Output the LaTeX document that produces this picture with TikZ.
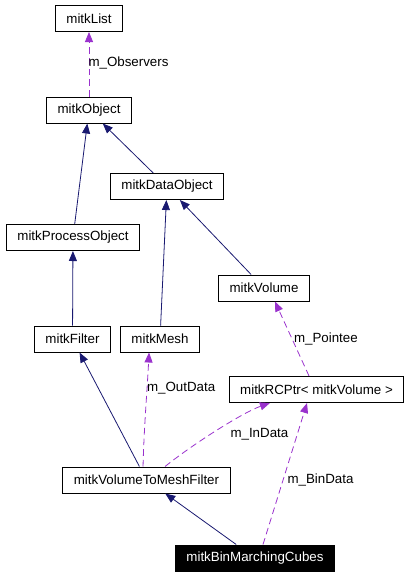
\documentclass[tikz,border=0pt]{standalone}
\usepackage{fontspec}
\setmainfont{Liberation Sans}
\usetikzlibrary{arrows.meta}
\definecolor{edgeblue}{HTML}{191970}
\definecolor{edgepurple}{HTML}{9A32CD}
\tikzset{every picture/.style={line width=0.75pt},
  cls/.style={draw, line width=0.75pt, minimum height=19.5pt, inner xsep=8.2pt, inner ysep=0pt, font=\fontsize{10}{12}\selectfont},
  self/.style={cls, fill=black, text=white},
  inherit/.style={draw=edgeblue, line width=0.6pt, -{Triangle[length=7.5pt,width=6pt]}, color=edgeblue},
  usage/.style={draw=edgepurple, line width=0.6pt, dashed, dash pattern=on 5pt off 3pt, -{Triangle[length=7.5pt,width=6pt]}, color=edgepurple},
  lbl/.style={anchor=west, inner sep=0pt, font=\fontsize{10}{12}\selectfont}}
\begin{document}
\begin{tikzpicture}[x=0.75pt,y=0.75pt,yscale=-1,xscale=1]
\useasboundingbox (0,0) rectangle (411,576);

% Class Nodes
\node[cls] (list) at (89,18.5) {mitkList};
\node[cls] (object) at (89,110) {mitkObject};
\node[cls] (dataobject) at (167,186.5) {mitkDataObject};
\node[cls] (processobject) at (73,237.5) {mitkProcessObject};
\node[cls] (volume) at (264,288) {mitkVolume};
\node[cls] (filter) at (72.5,339) {mitkFilter};
\node[cls] (mesh) at (160,339) {mitkMesh};
\node[cls] (rcptr) at (316.5,389.5) {mitkRCPtr< mitkVolume >};
\node[cls] (vtmfilter) at (146.5,480) {mitkVolumeToMeshFilter};
\node[self] (bincubes) at (255,558) {mitkBinMarchingCubes};

% Inheritance
\draw[inherit] (processobject) -- (object);
\draw[inherit] (dataobject) -- (object);
\draw[inherit] (filter) -- (processobject);
\draw[inherit] (mesh) -- (dataobject);
\draw[inherit] (volume) -- (dataobject);
\draw[inherit] (vtmfilter) -- (filter);
\draw[inherit] (bincubes) -- (vtmfilter);

% Usage
\draw[usage] (object) -- (list);
\draw[usage] ([xshift=-2.6pt]vtmfilter.north) .. controls +(1,-40) and +(-2,40) .. ([xshift=-8.2pt]mesh.south);
\draw[usage] ([xshift=13.9pt]vtmfilter.north) .. controls +(30,-24) and +(-26,9) .. ([xshift=-34.9pt]rcptr.south);
\draw[usage] ([xshift=6pt]bincubes.north) -- ([xshift=-7.1pt]rcptr.south);
\draw[usage] ([xshift=-5.6pt]rcptr.north) -- ([xshift=8.2pt]volume.south);

% Text Node
\node[lbl] (obslabel) at (88,63) {m\_Observers};
% Text Node
\node[lbl] (outlabel) at (146.5,388) {m\_OutData};
% Text Node
\node[lbl] (inlabel) at (230,434) {m\_InData};
% Text Node
\node[lbl] (binlabel) at (287,479.5) {m\_BinData};
% Text Node
\node[lbl] (pointeelabel) at (293.5,339) {m\_Pointee};

\end{tikzpicture}
\end{document}
